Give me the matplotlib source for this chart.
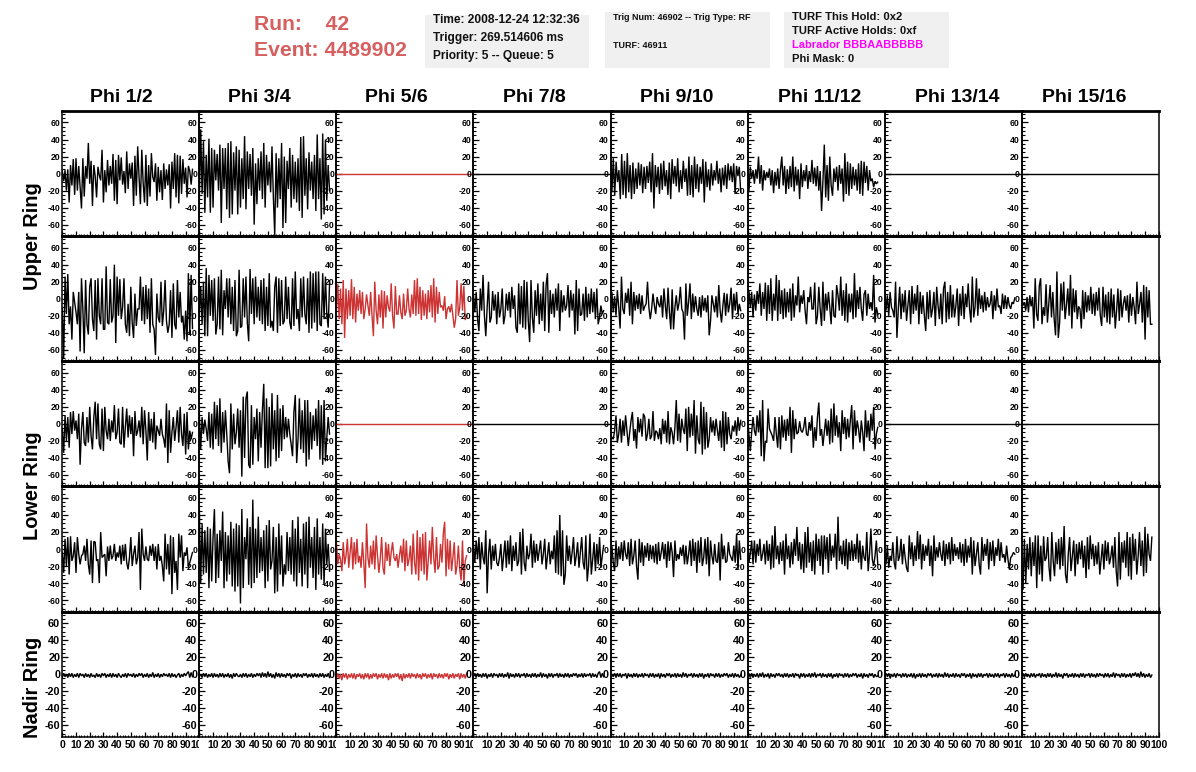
import numpy as np
import matplotlib
matplotlib.use("Agg")
import matplotlib.pyplot as plt
from matplotlib.patches import Rectangle
from matplotlib.ticker import MultipleLocator
from matplotlib.transforms import Bbox, TransformedBbox

plt.rcParams['font.family'] = ['Liberation Sans', 'DejaVu Sans']
plt.rcParams['font.weight'] = 'bold'

phi_titles = ["Phi 1/2", "Phi 3/4", "Phi 5/6", "Phi 7/8", "Phi 9/10", "Phi 11/12", "Phi 13/14", "Phi 15/16"]
ring_titles = ["Upper Ring", "Lower Ring", "Nadir Ring"]
flat = [0, 0]

# upper ring, first row
u1_1 = [3,-9,4,-20,5,-34,10,-14,17,-25,18,-20,9,-16,-41,18,-27,9,-6,36,-12,15,-38,10,-3,-28,8,-2,-8,28,-34,4,-22,16,-14,9,-12,23,-32,16,-36,22,-8,19,-13,3,-23,26,-18,12,-6,13,-38,21,-26,32,-4,-36,28,-11,-34,22,-38,10,-27,24,-4,-10,12,-32,8,-22,4,-31,12,-18,5,-14,11,-41,14,-18,24,-28,22,-35,21,-24,17,-12,7,-28,9,3,-13,5]
u1_2 = [-30,52,-24,38,-46,22,-28,41,-46,30,-40,28,-8,23,-20,34,-58,30,-18,30,-42,36,-52,38,-48,25,-20,32,-48,28,-40,18,-30,44,-42,26,-18,23,-26,30,-60,12,-36,18,-20,26,-30,36,-40,22,-14,14,-22,32,-28,-72,24,-40,18,-30,36,-64,20,-58,15,-18,30,-40,22,-30,14,-34,18,-44,43,-52,44,-26,18,-42,25,-20,14,-30,22,-44,46,-30,18,-54,47,-48,40,-32,10,-20]
u1_5 = [12,-22,18,-26,14,-10,4,-30,23,-25,15,-29,24,-22,10,-30,13,-24,6,-18,13,-14,11,-23,8,-18,9,-11,14,-22,24,-41,10,-16,8,-24,12,-19,15,-15,4,-25,13,-30,17,-12,9,-15,18,-22,4,-18,15,-10,6,-26,20,-25,10,-28,20,-18,11,-22,8,-12,17,-34,14,-16,5,-20,12,-14,4,-8,15,-12,6,-22,7,-14,10,-18,12,-8,9,-10,12,-24,9,-3,8,-22]
u1_6 = [7,-22,8,-6,4,-12,5,-6,20,-12,10,-20,4,-8,2,-5,6,-14,4,-23,2,-14,6,-18,4,20,-14,9,-24,5,-18,9,-16,20,-21,8,-14,5,-30,12,-16,4,-9,10,-18,3,-10,16,-12,7,-15,9,-20,3,-44,-9,34,-28,10,-32,20,-14,-26,6,-10,8,-20,10,-12,6,-33,24,-24,14,-26,12,-18,8,-14,5,-20,12,-24,15,-26,14,-11,9,-20,4,-9,-6,-16,-9,-12,-10]

# upper ring, second row
u2_1 = [-12,-70,26,-18,29,-30,-9,-48,8,-4,-16,-30,8,-62,24,-12,-64,22,-30,-42,14,24,-24,-38,22,-48,24,-20,-30,24,-36,-36,38,-28,-30,23,-28,-20,40,-52,26,-20,23,-24,-10,24,-30,-40,-6,-44,14,-28,-46,6,-32,-12,-12,26,-26,14,-30,16,-24,12,-40,24,-30,-36,-66,6,-22,-28,20,-32,-14,22,-26,-40,-30,10,-46,18,-30,-36,22,-22,8,-28,-20,-48,-14,-50,30,-42,28,-35]
u2_2 = [-20,14,-30,20,-44,36,-44,28,-20,22,-26,24,-42,-30,26,-36,34,-43,10,-12,24,-22,24,-30,14,-38,22,-44,-38,34,-34,-32,24,-22,26,-28,-50,35,-18,24,-30,26,-22,14,-26,22,-30,24,-38,14,-32,30,-34,-26,-38,14,26,-40,24,-32,22,-30,-26,26,-24,14,-28,-36,24,-32,32,-24,-12,-38,24,-22,26,-18,-30,24,-40,32,-35,30,-28,32,-38,32,-30,-32,30,-24,26,-18,-34,18]
u2_3 = [-14,17,-24,12,-30,22,-46,12,-24,10,-20,23,-24,14,-28,6,-14,10,-18,8,-24,-12,5,-8,-20,8,-20,-44,20,-14,-30,5,-22,10,-35,9,-22,4,-10,-15,18,-20,-35,15,-18,-18,4,-16,-24,6,-20,-14,12,-12,-22,5,-18,22,-20,24,-18,14,-25,10,-20,6,-24,10,-16,16,-22,24,-28,14,-18,8,-10,-8,-14,3,-24,-12,-9,-16,-6,-20,-34,-24,22,-20,-10,18,-14,15,-25,-20]
u2_4 = [5,-16,8,-24,-38,12,-14,28,-20,-44,-10,20,-28,-22,9,-14,5,-30,8,-22,-12,12,-30,-20,6,-14,8,-22,14,-12,4,-34,-40,18,-30,15,-34,22,-36,20,-26,-51,22,-22,-40,10,-20,18,-30,6,-26,20,-38,16,30,-40,10,-18,6,-22,12,-14,18,-38,10,-16,4,-14,-8,16,-22,10,-14,6,-42,22,-38,12,-20,-18,6,-26,14,-22,6,-18,12,-16,8,-24,12,-30,-22,-8,-18,-14]
u2_5 = [-5,8,-16,3,-20,10,-10,-35,26,-12,-18,7,-5,12,-20,20,-30,8,-14,4,-12,6,-18,4,-14,-9,-6,20,-10,-24,-12,6,-8,-18,2,-6,-10,4,-22,12,-8,-24,13,-16,-36,11,-36,-10,4,-14,-5,14,-12,-16,-48,18,-20,-4,18,-24,6,-16,3,-12,-20,2,-22,4,-14,1,-16,4,-43,-26,4,-6,-16,3,-22,16,-14,-28,-8,7,-20,6,-16,-6,13,-24,6,-14,8,-18,-6,-14]
u2_6 = [-12,10,-10,8,-22,5,-14,9,-6,18,-20,8,-12,19,-26,16,-18,24,-26,6,-14,28,-26,22,-18,10,-24,12,-22,8,-16,12,-26,18,-22,4,-8,26,-16,4,-6,10,-14,-30,2,-4,14,-12,-12,19,-30,-20,14,-12,-32,20,-26,6,-14,8,-10,-30,10,-20,-22,16,4,-14,26,-20,10,-26,18,-28,6,-16,6,-24,30,-22,10,-12,14,-12,-26,5,10,-20,6,-12,-4,-14,28,-28,-10,-18]
u2_7 = [-4,-14,4,-20,8,-10,-14,-22,20,-46,-12,14,-24,6,-16,10,-26,-8,10,-30,15,-18,6,-14,16,-30,8,-18,4,-20,-38,8,-24,10,-22,-12,8,-32,14,-8,-24,6,-30,12,20,-28,8,-24,16,-22,5,-22,-8,12,-32,6,-20,15,-24,6,-10,18,-12,-28,26,-22,-10,24,-20,12,-12,4,-16,8,-14,2,-10,-6,9,-24,4,-14,12,-10,-8,-18,6,-12,4,-12,2,-8,-12,-4,-6,1]
u2_8 = [3,-8,-4,-14,2,-16,4,-9,2,-35,24,-18,-26,15,24,-30,-10,-20,17,-28,-6,16,-22,8,-24,-43,32,-46,-28,18,-14,20,-24,-8,12,-20,28,-35,12,-16,10,-24,-9,-12,-35,10,-24,8,-16,4,-14,14,-18,6,-20,8,-14,13,-20,-32,14,-22,5,-28,8,-30,12,-22,5,-35,-14,12,-26,10,-22,-6,3,-14,4,-28,6,-20,2,-10,-30,20,-18,-6,8,-28,16,-48,14,-22,10,-30,-30]

# lower ring, first row
l1_1 = [-6,-34,10,-20,8,-28,14,-12,15,-8,4,-18,12,-48,-6,14,-22,-26,8,-22,20,-14,-30,8,26,-18,24,-24,-30,18,-32,20,-8,-18,6,-20,4,-10,22,-18,-10,18,-22,-24,20,-28,-4,18,-16,10,-12,8,-38,15,-14,-8,4,-16,20,-24,16,-8,-43,14,-20,6,-22,14,-30,-2,-8,-14,6,-12,-18,-28,24,-46,16,-34,-10,8,-20,-4,16,-22,20,-12,-26,12,-36,14,-30,-8,-18,-10]
l1_2 = [12,-30,8,-12,5,-6,-20,14,-28,12,-30,26,-18,22,-26,30,-34,14,-22,16,-12,-44,-58,24,-30,12,-24,-10,18,-28,16,-62,32,-40,30,38,-48,-52,22,-48,8,-18,18,-44,14,-28,16,47,-52,30,-52,20,-50,36,-30,16,-44,34,-40,18,-32,22,-18,8,-16,6,-12,-24,-38,14,34,-46,-18,30,-30,16,-34,28,-50,28,-42,14,-30,10,-20,18,-26,28,-42,22,-48,28,-44,-16,8,-12]
l1_5 = [-12,-16,-18,-8,10,-22,-12,6,-22,4,-14,10,-8,-26,-10,4,14,-20,-6,-29,8,-10,6,-15,12,8,-20,-12,6,-18,-14,15,-20,-8,-10,-18,-5,-24,6,-12,4,-22,15,-24,-4,-10,-24,-4,28,-20,12,-22,6,-6,-12,18,-32,20,-16,12,-14,28,-35,10,-18,-24,26,-36,20,-30,14,-28,-18,8,-10,4,-14,6,-8,-20,4,-28,15,-32,14,-24,8,-12,-18,-2,-9,4,-14,8,-8,4]
l1_6 = [8,-12,-32,-10,8,-8,-14,10,-10,16,-38,28,-44,-20,-22,18,-6,-10,-14,-20,8,-12,-28,8,-30,10,-16,5,-20,6,-14,20,-34,16,-18,6,-12,-10,3,-8,-10,-4,8,-12,-14,2,-8,10,-28,-4,-20,8,25,-14,-6,-26,-10,6,-14,4,-24,18,-22,24,-14,10,-16,2,-32,16,-12,8,-18,6,-16,4,22,-30,16,-14,4,-6,-22,4,-10,-32,16,-16,4,-20,12,-8,20,-30,-12,-4]

# lower ring, second row
l2_1 = [-4,-28,12,-20,14,-30,15,-14,-8,8,-28,14,-6,-18,-8,-6,4,-14,12,-18,-30,10,-40,9,8,-14,-12,-40,20,-10,-8,-6,-32,3,-14,4,-12,-8,6,-14,-4,-10,4,-18,5,-14,6,-16,-24,-10,14,-20,-6,4,-18,-10,20,-48,24,-6,-14,3,-12,-14,4,-8,6,-14,3,-24,6,-14,-8,-20,-38,18,-24,6,-30,16,-53,14,-28,-14,-48,18,-10,16,-26,-4,-8,2,-22,-16,-10,-4]
l2_2 = [47,-40,30,-30,22,-28,26,-46,24,-38,14,47,-40,18,-34,22,-14,44,-46,20,-38,16,-30,32,-44,24,-50,30,-44,28,-64,47,-46,14,-12,36,-42,26,-46,58,-40,24,-34,38,-28,14,-26,22,-46,28,-38,34,-24,-14,26,-52,14,-50,30,-30,16,-44,-18,-30,20,-26,14,-30,34,-38,24,-44,38,-28,12,-44,30,-30,32,-46,38,-22,14,-34,26,-48,36,-30,14,-36,30,-42,24,-18,6,-26]
l2_3 = [8,-18,-6,-12,-26,8,-18,-8,12,-22,-4,14,-24,8,-18,12,-16,-8,-22,8,-16,-46,30,-10,-22,4,-18,10,-24,16,-8,-28,-12,14,-22,-30,8,-14,6,-20,-4,8,-10,-14,-6,-22,-8,4,-16,12,-26,10,-20,-12,4,-30,18,-16,-30,22,-37,14,-26,18,-30,20,-37,-14,10,-18,26,-10,-28,14,-24,-20,6,-16,18,32,-32,12,-24,10,-26,-10,8,-30,-20,4,-24,-37,10,-42,-14,-8]
l2_4 = [6,-16,10,-12,14,-24,8,-10,-18,22,-52,-6,12,-24,4,-14,6,-16,-20,-10,6,-26,-8,10,-22,10,-18,16,-26,4,-14,8,-20,-14,20,-30,24,-16,-26,4,-12,-6,18,-22,10,-16,6,-14,-2,10,-18,-6,12,-24,-8,8,-18,-2,-12,16,-28,22,-30,40,-32,22,-42,-30,16,-14,4,-18,-4,14,-20,-8,8,-22,-4,14,-16,-24,16,-38,-20,18,-30,-12,8,-26,6,-18,14,-22,-8,4]
l2_5 = [-24,4,-16,-26,10,-20,3,-12,8,-14,10,-6,-12,8,-20,12,-18,-8,10,-20,-36,12,-16,8,-20,4,-10,7,-14,5,-12,4,-16,6,-18,8,-14,-4,8,-12,6,-22,9,-14,8,-4,-33,10,-14,-6,-12,2,-8,5,-18,4,-18,-6,10,-20,12,-14,8,-28,10,-16,14,-20,-10,12,-18,14,-32,10,-8,-18,6,-14,-16,8,-37,18,-12,4,-16,-14,8,-6,-10,-14,4,-16,18,-24,10,-12]
l2_6 = [26,-16,-6,10,-18,10,-16,6,-8,12,-14,-6,6,-18,10,-14,6,-24,16,-22,27,-12,4,-18,8,-14,10,-30,18,-12,4,-22,8,-18,12,-8,26,-14,8,-24,6,-28,20,-22,26,-16,8,-26,10,-30,18,-14,12,-20,16,-30,16,-12,14,-28,18,-14,4,-10,18,-24,38,-14,4,-18,10,-20,12,-24,8,-14,10,-14,6,-12,18,-16,10,-24,4,-10,-14,20,-26,-6,24,-12,-20,-8,10,-18]
l2_7 = [-8,-18,4,-22,-8,-14,8,-16,-24,15,-14,-8,12,-18,6,-10,-22,-27,16,-12,8,-20,4,-14,21,-12,17,-24,6,-14,4,-8,12,-20,4,-32,16,-14,2,-10,8,-6,-14,10,-20,6,-12,8,-18,14,-14,6,-8,2,-12,8,-16,6,-20,12,-16,4,-10,14,-30,10,-20,-6,8,-18,-30,14,-14,6,-8,12,-24,8,-14,10,-20,2,-8,12,-14,8,-10,-6,-16,4,-12,-24,-10,-8,-4,-6]
l2_8 = [-30,-48,12,-40,6,-24,14,-32,8,-20,16,-46,16,-30,4,-38,15,-14,-10,14,-22,-38,20,-14,-32,8,-18,12,-24,14,-20,27,-30,-40,-6,14,-26,-8,10,-32,6,-18,8,-12,10,-22,4,-34,14,-24,16,-12,6,-20,4,-18,8,-30,-12,6,-24,10,-14,8,-18,-10,4,-22,14,-26,-44,20,-36,8,-16,10,-22,20,-32,14,-36,18,-14,12,-30,-8,20,-20,10,-32,26,-28,18,-6,-14,14]

# nadir ring
n_1 = [-4,1,-3,0,-4,1,-3,1,-4,0,-3,1,-4,1,-2,0,-4,1,-3,0,-4,1,-3,-1,-4,1,-3,0,-4,1,-2,1,-4,0,-3,1,-4,1,-3,0,-4,1,-2,-4,0,-3,1,-4,1,-2,0,-3,1,-4,0,-3,1,-2,1,-4,0,-3,1,-4,0,-3,2,-4,0,-3,1,-4,0,-3,1,-2,0,-3,1,-4,1,-3,0,-4,-1,1,-4,0,-3,1,-2,1,3,-4,2,-3]
n_2 = [-3,0,-4,1,-3,1,-4,0,-3,1,-4,1,-3,0,-4,1,-3,1,-4,0,-3,1,-4,0,-5,1,-3,1,-2,-3,0,-4,1,-3,1,-4,0,-3,1,-4,0,-3,1,-2,1,-4,2,-3,1,-4,3,-3,1,-4,0,-5,2,-3,1,-4,1,-3,0,-4,1,-2,1,-5,0,-3,1,-4,1,-3,0,-4,1,-2,1,-4,0,-3,1,-4,1,-3,0,-4,1,-3,1,-4,0,-3,1,-4]
n_3 = [-6,1,-5,0,-7,1,-4,1,-6,0,-4,1,-5,1,-6,0,-3,1,-5,0,-6,1,-4,1,-6,0,-5,1,-3,1,-6,0,-4,1,-5,1,-4,0,-7,1,-5,0,-4,1,-3,1,-6,0,-8,1,-5,0,-4,1,-5,1,-3,0,-5,1,-4,0,-6,1,-3,1,-5,0,-4,1,-6,1,-3,0,-5,1,-4,0,-5,1,-3,1,-6,0,-4,1,-5,0,-3,1,-6,1,-4,0,-5,1]
n_4 = [-3,1,-4,1,-3,0,-4,1,-3,1,-5,0,-3,1,-4,1,-2,0,-4,1,-3,1,-4,0,-3,2,-5,1,-3,0,-4,1,-3,1,-4,0,-2,1,-4,1,-3,0,-4,1,-3,1,-4,0,-3,2,-4,1,-3,0,-5,1,-3,1,-4,0,-2,1,-4,1,-3,0,-4,1,-3,1,-4,0,-3,1,-2,1,-4,0,-3,1,-4,1,-3,0,-2,1,-4,1,-3,0,-4,1,3,-4,1,-3]
n_5 = [-4,0,-3,1,-4,1,-3,1,-4,0,-2,1,-5,1,-3,0,-4,1,-3,1,-4,0,-3,1,-4,1,-2,0,-4,1,-3,1,-4,0,-3,1,-5,1,-3,0,-4,1,-2,1,-4,0,-3,1,-4,1,-3,0,-4,2,-3,1,-4,0,-2,1,-4,1,-3,0,-4,1,-3,1,-5,0,-3,1,-4,1,-2,0,-4,1,-3,1,-4,0,-3,1,-2,1,-4,0,-3,1,-4,1,-3,0,-4,-1]
n_6 = [-3,1,-4,1,-4,0,-3,1,-4,1,-3,2,-4,0,-3,1,-5,1,-3,0,-4,1,-2,1,-3,0,-4,1,-3,1,-4,0,-3,1,-4,1,-2,0,-5,1,-3,1,-4,0,-3,1,-4,1,-3,2,-4,0,-2,1,-4,1,-3,0,-4,1,-3,1,-5,0,-3,1,-4,1,-2,0,-4,1,-3,1,-4,0,-3,1,-2,1,-4,0,-3,1,-5,1,-3,0,-4,1,-2,1,-4,0,-3,-2]
n_7 = [-4,1,-3,1,-5,0,-3,1,-4,1,-2,0,-4,1,-3,1,-4,0,-3,1,-4,1,-5,0,-3,1,-4,1,-3,0,-4,1,-2,1,-4,0,-3,1,-4,1,-3,0,-4,2,-3,1,-4,0,-3,1,-4,1,-3,0,-4,1,-2,1,-4,0,-3,1,-5,1,-3,0,-4,1,-3,1,-4,0,-2,1,-4,1,-3,0,-4,1,-3,1,-4,0,-2,1,-4,1,-3,0,-4,1,-3,-1]
n_8 = [-3,1,-4,1,-3,0,-4,1,-3,1,-4,0,-2,1,-4,1,-3,0,-4,1,-3,1,-4,0,-3,2,-4,1,-3,0,-5,1,-2,1,-4,0,-3,1,-4,1,-3,0,-4,1,-3,1,-4,0,-2,1,-4,1,-3,0,-4,1,-3,1,-2,0,-4,1,-3,1,-4,0,-3,2,-4,1,-2,0,-4,1,-3,1,-4,0,-3,1,-4,1,-2,2,-3,1,-4,3,-3,1,-4,0,-3,1,-4,-1]

rows = [
    [u1_1, u1_2, flat, flat, u1_5, u1_6, flat, flat],
    [u2_1, u2_2, u2_3, u2_4, u2_5, u2_6, u2_7, u2_8],
    [l1_1, l1_2, flat, flat, l1_5, l1_6, flat, flat],
    [l2_1, l2_2, l2_3, l2_4, l2_5, l2_6, l2_7, l2_8],
    [n_1, n_2, n_3, n_4, n_5, n_6, n_7, n_8],
]

W, H = 1196, 772
RED = '#cc3333'
fig = plt.figure(figsize=(W / 100, H / 100), dpi=100, facecolor='white')


def ftext(x, y, s, **kw):
    kw.setdefault('va', 'center')
    kw.setdefault('ha', 'left')
    kw.setdefault('fontweight', 'bold')
    return fig.text(x / W, 1 - y / H, s, **kw)


def box(x0, y0, x1, y1):
    fig.add_artist(Rectangle((x0 / W, 1 - y1 / H), (x1 - x0) / W, (y1 - y0) / H,
                             transform=fig.transFigure, fc='#f0f0f0', ec='none'))


box(425, 15, 589, 68)
box(605, 12, 770, 68)
box(784, 12, 949, 68)

ftext(254, 24, "Run:    42", fontsize=15.2, color='#d65f5f')
ftext(254, 51, "Event: 4489902", fontsize=15.2, color='#d65f5f')
ftext(433, 20, "Time: 2008-12-24 12:32:36", fontsize=8.6, color='#111111')
ftext(433, 38, "Trigger: 269.514606 ms", fontsize=8.6, color='#111111')
ftext(433, 56, "Priority: 5 -- Queue: 5", fontsize=8.6, color='#111111')
ftext(613, 17, "Trig Num: 46902 -- Trig Type: RF", fontsize=6.5, color='#111111')
ftext(613, 45, "TURF: 46911", fontsize=6.5, color='#111111')
ftext(792, 16.5, "TURF This Hold: 0x2", fontsize=8.1, color='#111111')
ftext(792, 31.5, "TURF Active Holds: 0xf", fontsize=8.1, color='#111111')
ftext(792, 45.5, "Labrador BBBAABBBBB", fontsize=7.95, color='#ff00ff')
ftext(792, 59.5, "Phi Mask: 0", fontsize=8.1, color='#111111')

title_x = [121.5, 259, 396, 534, 676.5, 820, 957, 1084]
for tx, label in zip(title_x, phi_titles):
    ftext(tx, 97, label, fontsize=14, ha='center')
for ry, label in zip([236, 486, 687], ring_titles):
    ftext(32, ry, label, fontsize=14.4, ha='center', rotation=90)

LEFT, COLW, TOP, ROWH = 62.3, 137.05, 111.0, 125.15
for r, row in enumerate(rows):
    nadir = r == 4
    for c, series in enumerate(row):
        x0 = LEFT + c * COLW
        y0 = TOP + r * ROWH
        ax = fig.add_axes([x0 / W, 1 - (y0 + ROWH) / H, COLW / W, ROWH / H])
        ax.patch.set_alpha(0)
        vals = np.asarray(series, dtype=float)
        xs = np.array([0, 100]) if len(vals) == 2 else np.linspace(0, 95, len(vals))
        ax.plot(xs, vals, color=RED if c == 2 else 'black',
                lw=1.0, solid_joinstyle='miter')
        ax.set_xlim(0, 100)
        ax.set_ylim(-73.5, 73.5)
        for side in ('left', 'right'):
            ax.spines[side].set_linewidth(1.1)
        ax.spines['top'].set_linewidth(2.0)
        ax.spines['bottom'].set_linewidth(1.1 if nadir else 2.0)
        ax.yaxis.set_minor_locator(MultipleLocator(5))
        ax.set_yticks([-60, -40, -20, 0, 20, 40, 60])
        ax.set_yticklabels(['-60', '-40', '-20', '0', '20', '40', '60'],
                           fontsize=7.8 if nadir else 6.2, fontweight='bold')
        ax.tick_params(axis='y', which='major', direction='in', length=4.5, width=0.9, pad=1.5)
        ax.tick_params(axis='y', which='minor', direction='in', length=2.2, width=0.8)
        ax.xaxis.set_minor_locator(MultipleLocator(2))
        ax.set_xticks(np.arange(0, 101, 10))
        if nadir:
            labels = [str(v) for v in range(0, 101, 10)]
            if c > 0:
                labels[0] = ''
            ax.set_xticklabels(labels, fontsize=7.5, fontweight='bold')
        else:
            ax.set_xticklabels([])
        ax.tick_params(axis='x', which='major', direction='in', length=3.5, width=0.9, pad=2)
        ax.tick_params(axis='x', which='minor', direction='in', length=1.8, width=0.8)
        if nadir and c < 7:
            clip = TransformedBbox(Bbox([[0, 0], [(x0 + COLW) / W, 1]]), fig.transFigure)
            last = ax.xaxis.get_major_ticks()[-1].label1
            last.set_clip_box(clip)
            last.set_clip_on(True)

fig.savefig('out.png', dpi=100, facecolor='white')
